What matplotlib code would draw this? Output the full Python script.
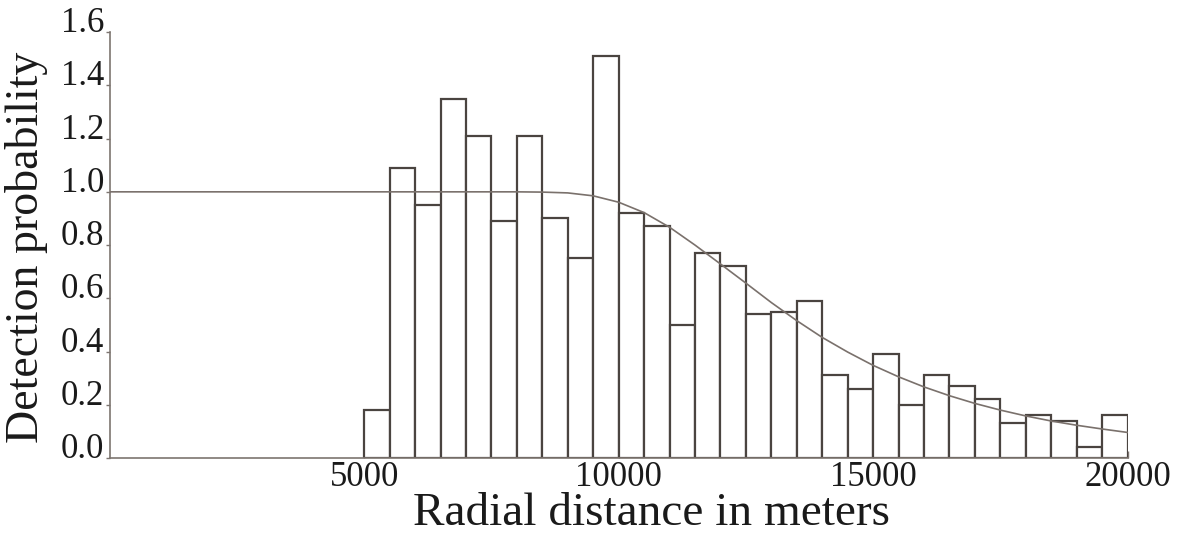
import matplotlib.pyplot as plt

# histogram bins (left edges, m) and heights
bin_left = [5000, 5500, 6000, 6500, 7000, 7500, 8000, 8500, 9000, 9500,
            10000, 10500, 11000, 11500, 12000, 12500, 13000, 13500, 14000, 14500,
            15000, 15500, 16000, 16500, 17000, 17500, 18000, 18500, 19000, 19500]
bin_height = [0.18, 1.09, 0.95, 1.35, 1.21, 0.89, 1.21, 0.90, 0.75, 1.51,
              0.92, 0.87, 0.50, 0.77, 0.72, 0.54, 0.55, 0.59, 0.31, 0.26,
              0.39, 0.20, 0.31, 0.27, 0.22, 0.13, 0.16, 0.14, 0.04, 0.16]
bin_width = 500

# detection function curve
curve_x = [0, 2000, 4000, 6000, 7500, 8000, 8500, 9000, 9500, 10000,
           10500, 11000, 11500, 12000, 12500, 13000, 13500, 14000, 14500, 15000,
           15500, 16000, 16500, 17000, 17500, 18000, 18500, 19000, 19500, 20000]
curve_y = [1.0, 1.0, 1.0, 1.0, 1.0, 1.0, 0.999, 0.996, 0.985, 0.961,
           0.922, 0.867, 0.80, 0.729, 0.657, 0.584, 0.516, 0.453, 0.398, 0.348,
           0.305, 0.267, 0.234, 0.205, 0.180, 0.158, 0.139, 0.123, 0.109, 0.096]

xticks = [5000, 10000, 15000, 20000]
yticks = [0.0, 0.2, 0.4, 0.6, 0.8, 1.0, 1.2, 1.4, 1.6]

plt.rcParams['font.family'] = ['Liberation Serif', 'DejaVu Serif']

fig = plt.figure(figsize=(11.92, 5.33), dpi=100)
ax = fig.add_axes([0.092, 0.1407, 0.854, 0.799])

ax.bar(bin_left, bin_height, width=bin_width, align='edge',
       facecolor='white', edgecolor='#4a4440', linewidth=1.6, zorder=2)
ax.plot(curve_x, curve_y, color='#7a716c', linewidth=1.2, zorder=3)

ax.set_xlim(0, 20000)
ax.set_ylim(0, 1.6)
ax.set_xticks(xticks)
ax.set_xticklabels([str(t) for t in xticks])
ax.set_yticks(yticks)
ax.set_yticklabels(['%.1f' % t for t in yticks])

for s in ['top', 'right']:
    ax.spines[s].set_visible(False)
for s in ['left', 'bottom']:
    ax.spines[s].set_color('#7d7570')
    ax.spines[s].set_linewidth(1.2)

ax.tick_params(axis='x', direction='in', length=5, width=1, color='#7d7570',
               labelsize=25, pad=2, labelcolor='#1a1a1a')
ax.tick_params(axis='y', direction='out', length=3, width=1, color='#7d7570',
               labelsize=25, pad=1, labelcolor='#1a1a1a')
# y tick labels sit on their ticks, like in the original
for lab in ax.get_yticklabels():
    lab.set_va('baseline')

ax.set_xlabel('Radial distance in meters', fontsize=34, color='#1a1a1a')
ax.set_ylabel('Detection probability', fontsize=33, color='#1a1a1a')
ax.xaxis.set_label_coords(0.532, -0.08)
ax.yaxis.set_label_coords(-0.061, 0.495)

fig.savefig('out.png', dpi=100)
